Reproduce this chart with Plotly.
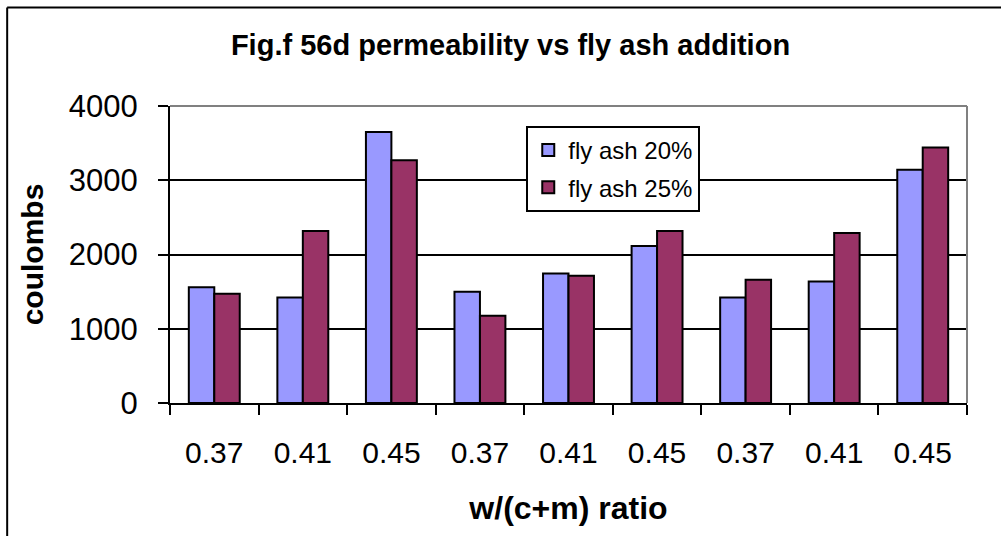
import plotly.graph_objects as go

# w/(c+m) ratio for each bar group, left to right
group_keys = ['g1', 'g2', 'g3', 'g4', 'g5', 'g6', 'g7', 'g8', 'g9']
ratio_labels = ['0.37', '0.41', '0.45', '0.37', '0.41', '0.45', '0.37', '0.41', '0.45']

# 56 day charge passed (coulombs)
fly_ash_20 = [1560, 1420, 3650, 1500, 1745, 2115, 1420, 1635, 3140]
fly_ash_25 = [1470, 2315, 3270, 1175, 1715, 2315, 1660, 2290, 3440]

y_ticks = [0, 1000, 2000, 3000, 4000]

font_name = 'Liberation Sans, Arial, sans-serif'

fig = go.Figure()
fig.add_trace(go.Bar(
    x=group_keys, y=fly_ash_20, name='fly ash 20%', legendgroup='a',
    marker=dict(color='#9999FF', line=dict(color='black', width=2)),
))
fig.add_trace(go.Bar(
    x=group_keys, y=fly_ash_25, name='fly ash 25%', legendgroup='b',
    marker=dict(color='#993366', line=dict(color='black', width=2)),
))

fig.update_layout(
    width=1001, height=536,
    barmode='group', bargap=0.425, bargroupgap=0,
    plot_bgcolor='white', paper_bgcolor='white',
    margin=dict(l=170, r=34, t=106, b=133),
    font=dict(family=font_name, color='black'),
    title=dict(
        text='<b>Fig.f 56d permeability vs fly ash addition</b>',
        font=dict(size=29, family=font_name, color='black'),
        x=0.51, xanchor='center', y=0.916, yanchor='middle',
    ),
    xaxis=dict(
        type='category', tickvals=group_keys, ticktext=ratio_labels,
        tickson='boundaries', ticks='outside', ticklen=10, tickwidth=2, tickcolor='black',
        showline=True, linecolor='black', linewidth=2,
        showgrid=False, tickfont=dict(size=30), ticklabelstandoff=22,
        title=dict(text='<b>w/(c+m) ratio</b>', font=dict(size=32), standoff=29),
    ),
    yaxis=dict(
        range=[0, 4000], tickvals=y_ticks,
        ticks='outside', ticklen=10, tickwidth=2, tickcolor='black',
        showline=True, linecolor='black', linewidth=2,
        showgrid=True, gridcolor='black', gridwidth=2,
        zeroline=False, tickfont=dict(size=31), ticklabelstandoff=14,
        title=dict(text='<b>coulombs</b>', font=dict(size=30), standoff=16),
    ),
    legend=dict(
        x=0.447, y=0.933, xanchor='left', yanchor='top',
        bgcolor='white', bordercolor='black', borderwidth=2,
        font=dict(size=24), itemwidth=30, tracegroupgap=3,
    ),
    showlegend=True,
)

# gray frame on top and right of the plot area
fig.add_shape(type='line', xref='paper', yref='paper', x0=0, x1=1, y0=1, y1=1,
              line=dict(color='#808080', width=2))
fig.add_shape(type='line', xref='paper', yref='paper', x0=1, x1=1, y0=0, y1=1,
              line=dict(color='#808080', width=2))

# outer chart border (runs off the right and bottom of the picture)
fig.add_shape(type='line', xref='paper', yref='paper', x0=-0.2043, x1=1.1, y0=1.3316, y1=1.3316,
              line=dict(color='black', width=2))
fig.add_shape(type='line', xref='paper', yref='paper', x0=-0.2043, x1=-0.2043, y0=1.3316, y1=-0.5,
              line=dict(color='black', width=2))

fig.write_html('out.html', config={'displayModeBar': False},
               post_script="document.body.style.margin='0';")
